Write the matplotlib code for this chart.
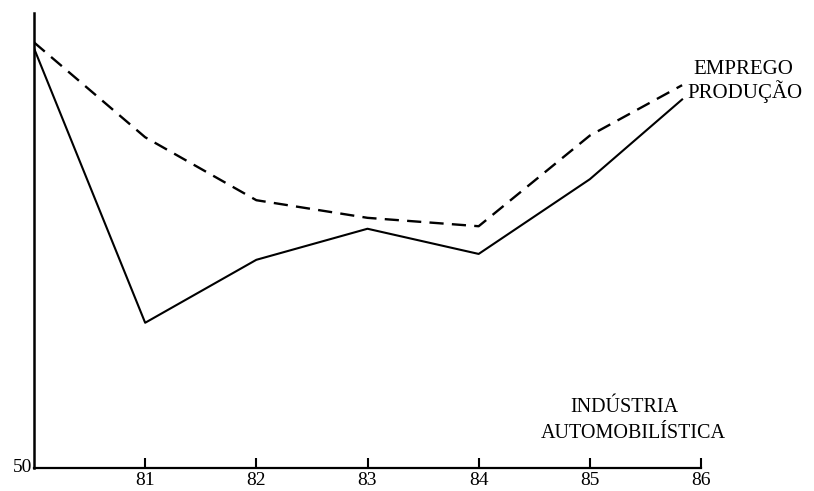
import matplotlib
matplotlib.use('Agg')
import matplotlib.pyplot as plt

plt.rcParams['font.family'] = ['Liberation Serif', 'DejaVu Serif']

# ── data (index) ──
years = [80, 81, 82, 83, 84, 85, 85.83]
producao = [100.0, 67.3, 74.8, 78.5, 75.5, 84.4, 93.9]
emprego = [100.7, 89.4, 81.9, 79.8, 78.8, 89.6, 95.6]
xticks = [81, 82, 83, 84, 85, 86]

fig = plt.figure(figsize=(8.14, 4.91), dpi=100)
ax = fig.add_axes([34/814, 23/491, 667/814, 455/491])

ax.plot(years, producao, color='black', linewidth=1.5)
ax.plot(years, emprego, color='black', linewidth=1.7, dashes=(6, 3.5))

ax.set_xlim(80, 86)
ax.set_ylim(50, 104.2)
ax.spines['top'].set_visible(False)
ax.spines['right'].set_visible(False)
ax.spines['left'].set_linewidth(1.8)
ax.spines['bottom'].set_linewidth(1.6)

ax.set_xticks(xticks)
ax.set_xticklabels([str(t) for t in xticks], fontsize=14)
ax.tick_params(axis='x', direction='in', length=7, width=1.5, pad=3)
ax.set_yticks([])
ax.text(-0.003, 0.0, '50', transform=ax.transAxes, ha='right', va='center', fontsize=14)

# labels
fig.text(693/814, 1 - 70/491, 'EMPREGO', ha='left', va='center', fontsize=15)
fig.text(687/814, 1 - 92/491, 'PRODUÇÃO', ha='left', va='center', fontsize=15)
fig.text(624/814, 1 - 408/491, 'INDÚSTRIA', ha='center', va='center', fontsize=14.5)
fig.text(633/814, 1 - 433/491, 'AUTOMOBILÍSTICA', ha='center', va='center', fontsize=14.5)

fig.savefig('out.png', dpi=100, facecolor='white')
